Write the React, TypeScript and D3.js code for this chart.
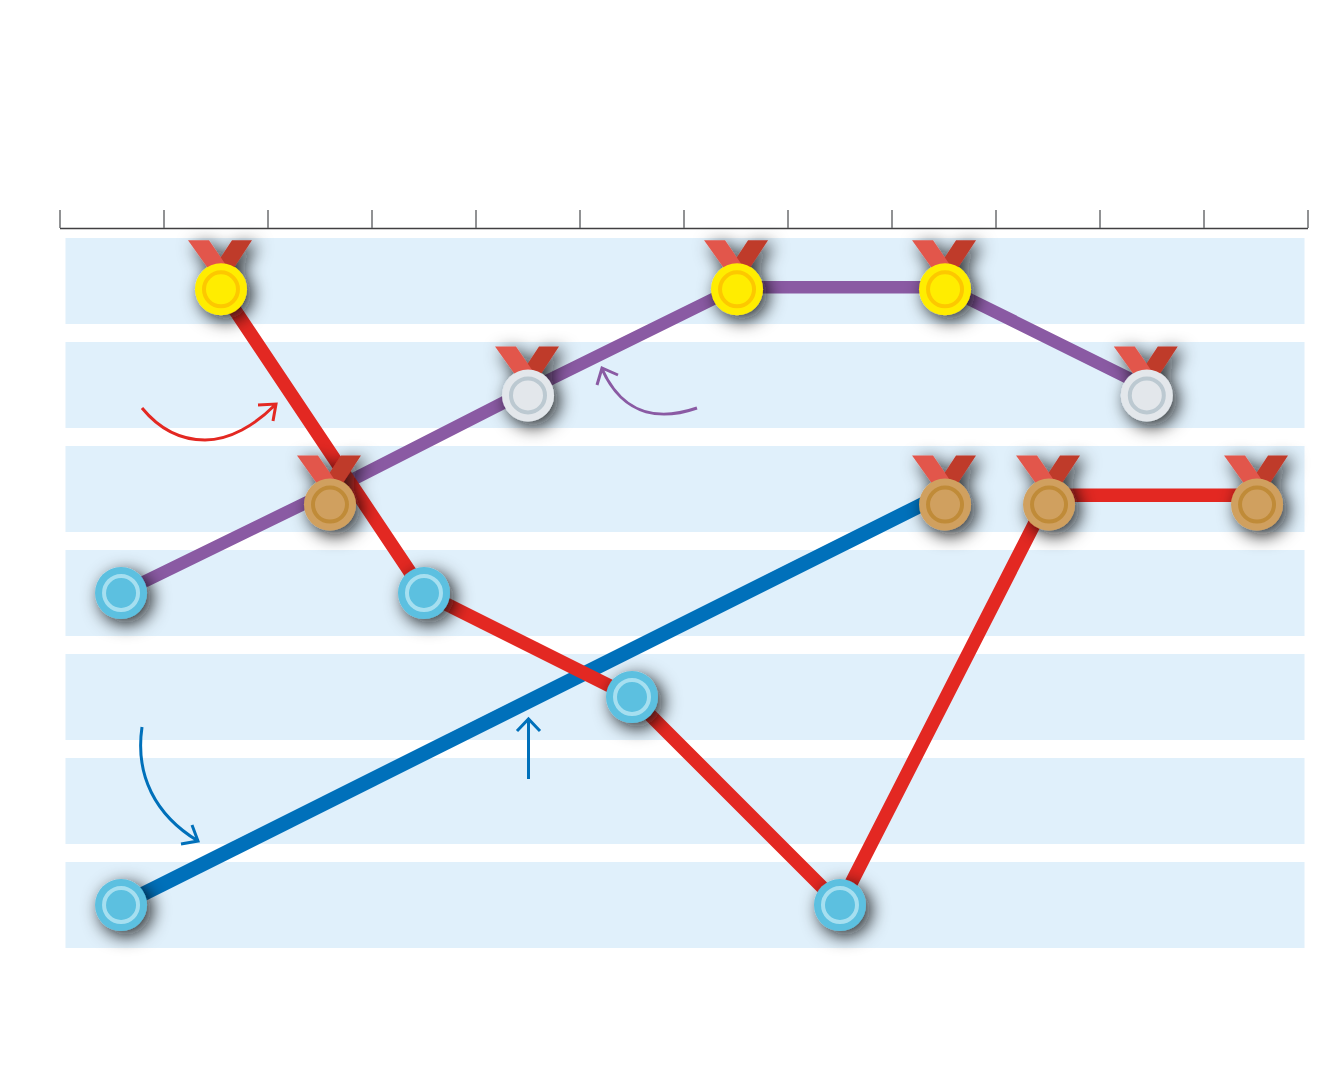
import React, { useRef, useEffect } from 'react';
import * as d3 from 'd3';

// positions along the 12-step axis and ranks (1 = top band)
const ticks = [0, 1, 2, 3, 4, 5, 6, 7, 8, 9, 10, 11, 12];
const bands = [1, 2, 3, 4, 5, 6, 7];

const purpleX = [0.587, 2.596, 4.5, 6.51, 8.51, 10.45];
const purpleRank = [4, 3.02, 2.05, 1.06, 1.06, 2.02];

const redX = [1.548, 3.5, 5.5, 7.5, 9.51, 11.51];
const redRank = [1.08, 4, 5, 7, 3.06, 3.06];

const blueX = [0.587, 8.51];
const blueRank = [7, 3.04];

// one medal per result, centred a little lower than the line where it has ribbons
const medalX = [0.587, 1.548, 2.596, 3.5, 4.5, 5.5, 6.51, 7.5, 8.51, 8.51, 9.51, 10.45, 11.51, 0.587];
const medalRank = [4, 1.08, 3.15, 4, 2.1, 5, 1.08, 7, 1.08, 3.15, 3.15, 2.1, 3.15, 7];
const medalKind = ['blue', 'gold', 'bronze', 'blue', 'silver', 'blue', 'gold', 'blue', 'gold', 'bronze', 'bronze', 'silver', 'bronze', 'blue'];

const medalColors = {
    gold: ['#ffed00', '#fdc800'],
    silver: ['#e3e7eb', '#bcc9d1'],
    bronze: ['#d0a05f', '#c08b38'],
    blue: ['#5bc0e0', '#a6dff0'],
};

const App = () => {
    const ref = useRef(null);

    useEffect(() => {
        const svg = d3.select(ref.current);
        svg.selectAll('*').remove();

        const x = d3.scaleLinear().domain([0, 12]).range([60, 1308]);
        const y = d3.scaleLinear().domain([1, 7]).range([281, 905]);

        const defs = svg.append('defs');
        const filter = defs.append('filter').attr('id', 'medal-shadow')
            .attr('x', '-80%').attr('y', '-80%').attr('width', '260%').attr('height', '260%');
        filter.append('feDropShadow')
            .attr('dx', 5).attr('dy', 5).attr('stdDeviation', 9)
            .attr('flood-color', '#111').attr('flood-opacity', 0.9);

        // --- Bands ---
        svg.append('g').selectAll('rect')
            .data(bands)
            .enter()
            .append('rect')
            .attr('x', 65.5)
            .attr('y', d => y(d) - 43)
            .attr('width', 1239)
            .attr('height', 86)
            .attr('fill', '#e0f0fb');

        // --- Axis, labels empty ---
        const axis = svg.append('g')
            .attr('transform', 'translate(-0.5,228)')
            .call(d3.axisTop(x).tickValues(ticks).tickSize(18).tickSizeOuter(0).tickFormat(() => ''));
        axis.select('.domain').attr('stroke', '#414042').attr('stroke-width', 1.5);
        axis.selectAll('.tick line').attr('stroke', '#6d6e71').attr('stroke-width', 1.5);

        const line = d3.line()
            .x(d => x(d[0]))
            .y(d => y(d[1]));

        const drawLine = (xs, ranks, color, width) => {
            svg.append('path')
                .datum(xs.map((v, i) => [v, ranks[i]]))
                .attr('fill', 'none')
                .attr('stroke', color)
                .attr('stroke-width', width)
                .attr('stroke-linejoin', 'round')
                .attr('d', line);
        };

        drawLine(purpleX, purpleRank, '#8a5aa3', 12.5);
        drawLine(blueX, blueRank, '#0070ba', 14.5);
        drawLine(redX, redRank, '#e32822', 13.5);

        // --- Medals ---
        medalX.forEach((v, i) => {
            const kind = medalKind[i];
            const [fill, ring] = medalColors[kind];
            const g = svg.append('g')
                .attr('transform', `translate(${x(v)},${y(medalRank[i])})`)
                .attr('filter', 'url(#medal-shadow)');
            if (kind !== 'blue') {
                g.append('polygon').attr('points', '31,-49 11,-49 -12,-14 8,-14').attr('fill', '#bf3a2b');
                g.append('polygon').attr('points', '-33,-49 -12,-49 12,-14 -8,-14').attr('fill', '#e2574c');
            }
            g.append('circle').attr('r', 26).attr('fill', fill);
            g.append('circle').attr('r', 17).attr('fill', 'none').attr('stroke', ring).attr('stroke-width', 4);
        });

        // --- Annotation arrows ---
        const arrow = (d, color) => {
            svg.append('path').attr('d', d).attr('fill', 'none')
                .attr('stroke', color).attr('stroke-width', 3).attr('stroke-linecap', 'butt');
        };
        arrow('M142,408C165,436 190,440 205,440C230,440 255,425 275,405M258,405L276,404L273,421', '#e32822');
        arrow('M697,408C665,419 625,420 602,369M597,385L602,368L618,375', '#8a5aa3');
        arrow('M142,727C135,775 155,815 198,841M181,844L198,841L192,825', '#0070ba');
        arrow('M528.5,779L528.5,719M517,731L528.5,719L540,731', '#0070ba');
    }, []);

    return <svg ref={ref} width={1320} height={1080} style={{ position: 'absolute', left: 0, top: 0, background: '#fff' }}></svg>;
};

export default App;
